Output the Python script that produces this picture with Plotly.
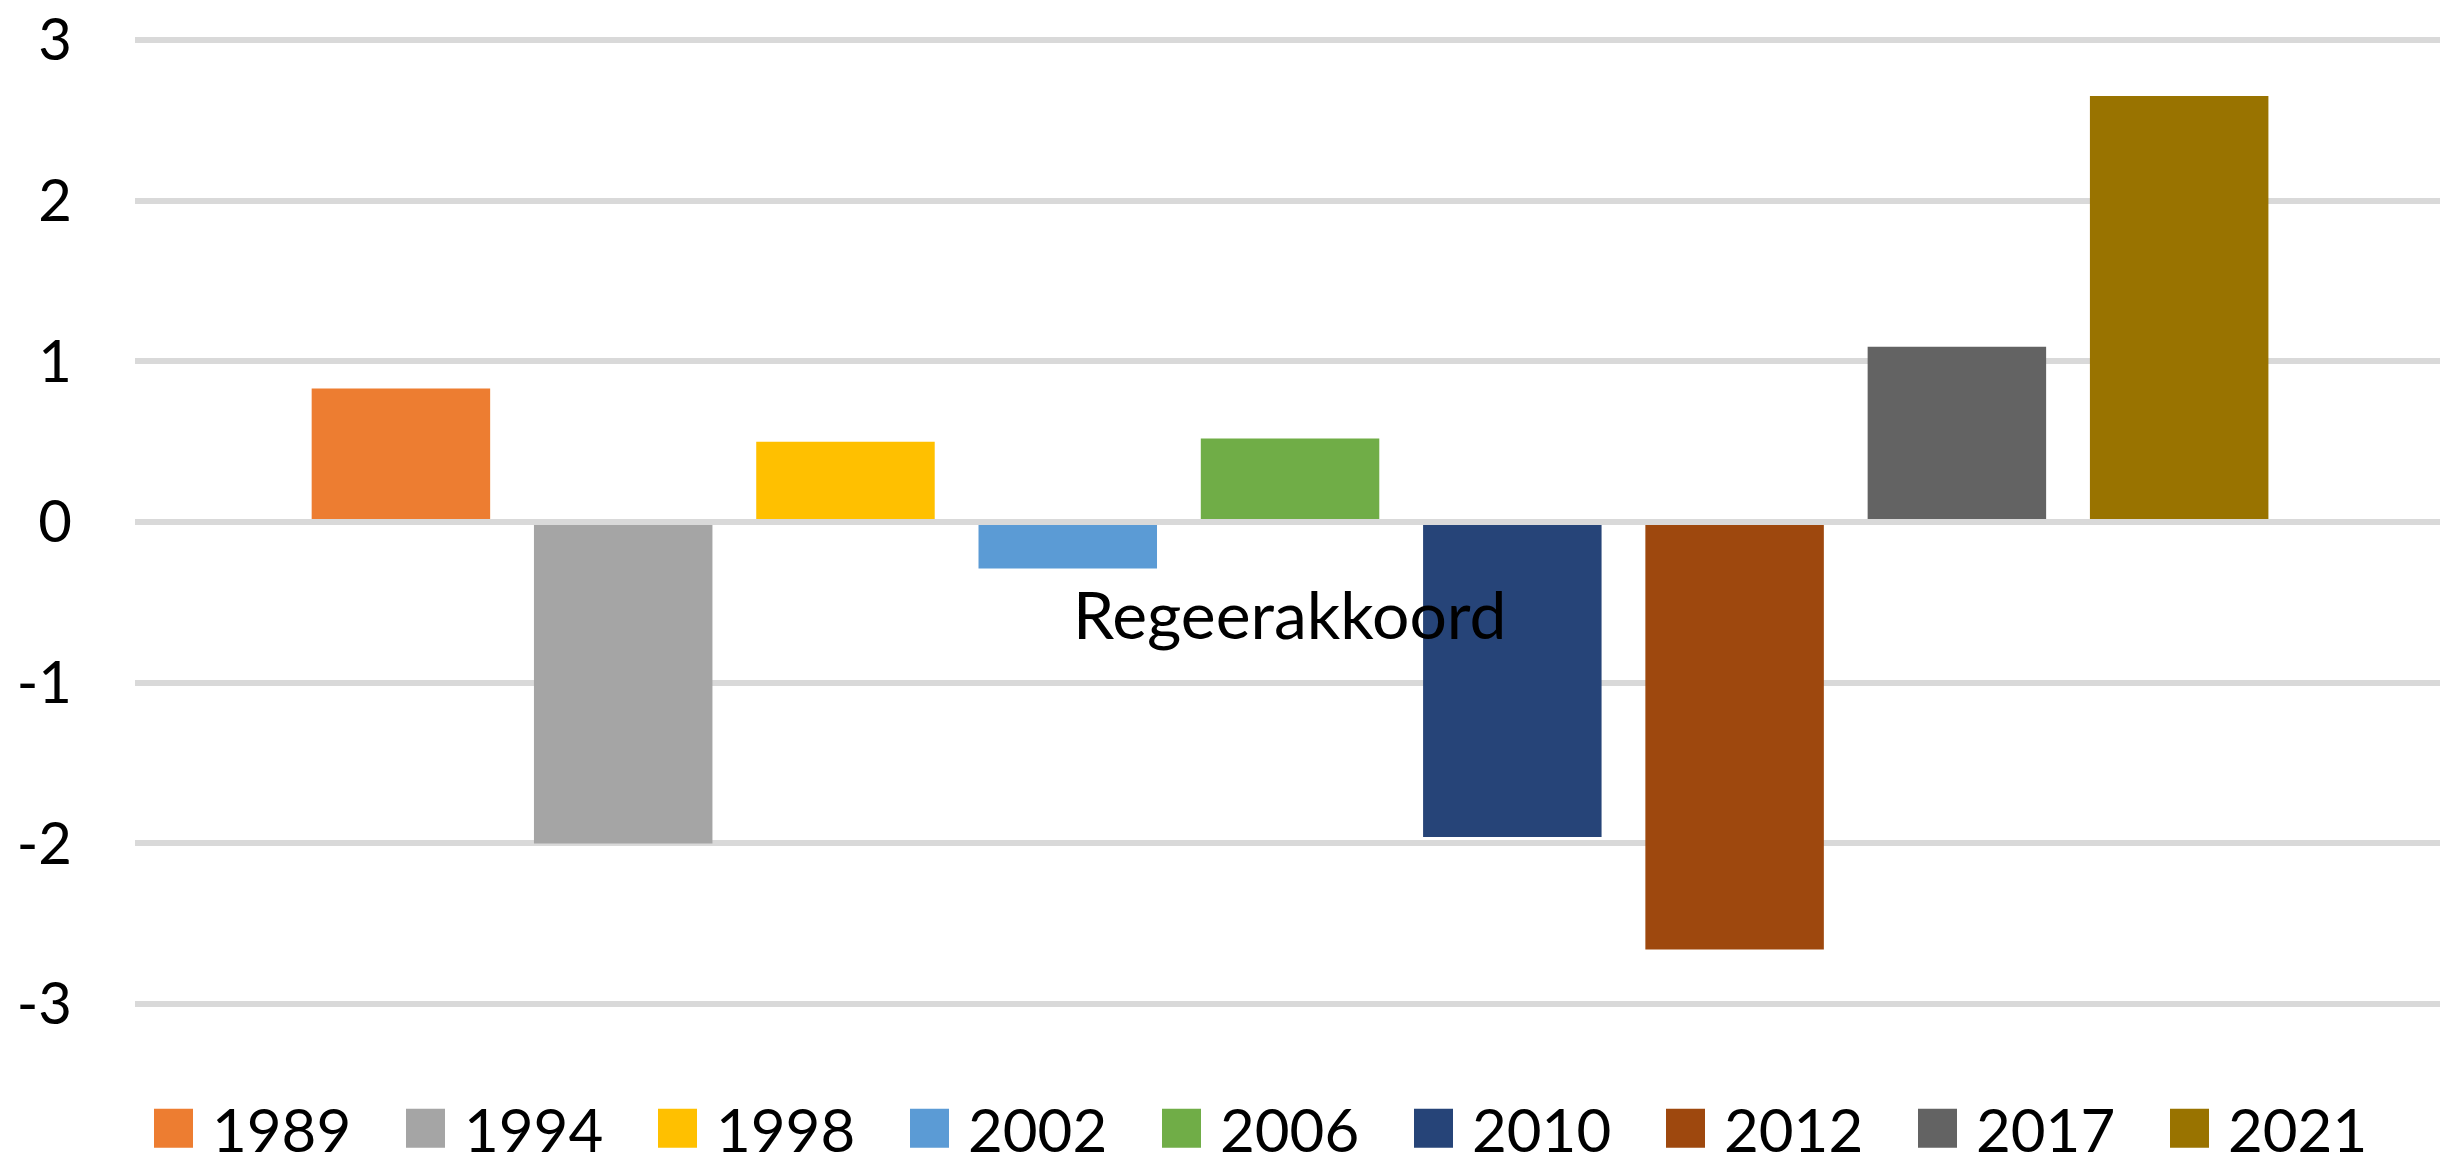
import plotly.graph_objects as go

# ---- data ----
category = ["Regeerakkoord"]
years = ["1989", "1994", "1998", "2002", "2006", "2010", "2012", "2017", "2021"]
values = [0.83, -2.0, 0.5, -0.29, 0.52, -1.96, -2.66, 1.09, 2.65]
y_tickvals = [-3, -2, -1, 0, 1, 2, 3]
y_ticktext = ["-3", "-2", "-1", "0", "1", "2", "3"]

# ---- styles ----
colors = ["#ED7D31", "#A5A5A5", "#FFC000", "#5B9BD5", "#70AD47",
          "#264478", "#9E480E", "#636363", "#997300"]
GRID = "#D9D9D9"
FONT = "Lato"

fig = go.Figure()
for yr, v, c in zip(years, values, colors):
    fig.add_trace(go.Bar(x=category, y=[v], name=yr,
                         marker=dict(color=c, line=dict(width=0)),
                         hoverinfo="skip"))

# zero axis line drawn above the bars (as in the original)
fig.add_shape(type="line", xref="paper", yref="y", x0=0, x1=1, y0=0, y1=0,
              line=dict(color=GRID, width=6), layer="above")

# category label next to the horizontal axis
fig.add_annotation(x=category[0], y=0, xref="x", yref="y", text=category[0],
                   showarrow=False, yanchor="middle", xanchor="center", yshift=-91,
                   font=dict(family=FONT, size=66, color="black"))

fig.update_layout(
    template="none",
    width=2440, height=1168,
    margin=dict(l=135, r=0, t=35, b=159, pad=0, autoexpand=False),
    paper_bgcolor="white", plot_bgcolor="white",
    font=dict(family=FONT, color="black", size=58),
    barmode="group", bargap=0.134, bargroupgap=0.197,
    showlegend=True,
    legend=dict(orientation="h", x=0, xanchor="left", y=-0.0757, yanchor="top",
                font=dict(family=FONT, size=60, color="black"),
                itemwidth=67, entrywidth=170, entrywidthmode="pixels",
                bgcolor="rgba(0,0,0,0)", borderwidth=0, traceorder="normal"),
    xaxis=dict(range=[-0.5, 0.4978], showticklabels=False, showgrid=False,
               zeroline=False, showline=False, ticks=""),
    yaxis=dict(range=[-3.03, 3.03], tickmode="array", tickvals=y_tickvals,
               ticktext=y_ticktext, showgrid=True, gridcolor=GRID, gridwidth=6,
               zeroline=False, showline=False, ticks="", ticklabelstandoff=62,
               tickfont=dict(family=FONT, size=58, color="black")),
)

post = """
document.body.style.margin = '0';
document.body.style.overflow = 'hidden';
var gd = document.getElementById('{plot_id}');
function fixLegend(){
  gd.querySelectorAll('.legendpoints path').forEach(function(p){
    var orig = p.getAttribute('data-orig-t');
    if (orig === null) { orig = p.getAttribute('transform') || ''; p.setAttribute('data-orig-t', orig); }
    p.setAttribute('transform', orig + ' scale(3.25)');
  });
}
fixLegend();
gd.on('plotly_afterplot', fixLegend);
"""

fig.write_html("out.html", post_script=post,
               config={"displayModeBar": False, "staticPlot": True})
